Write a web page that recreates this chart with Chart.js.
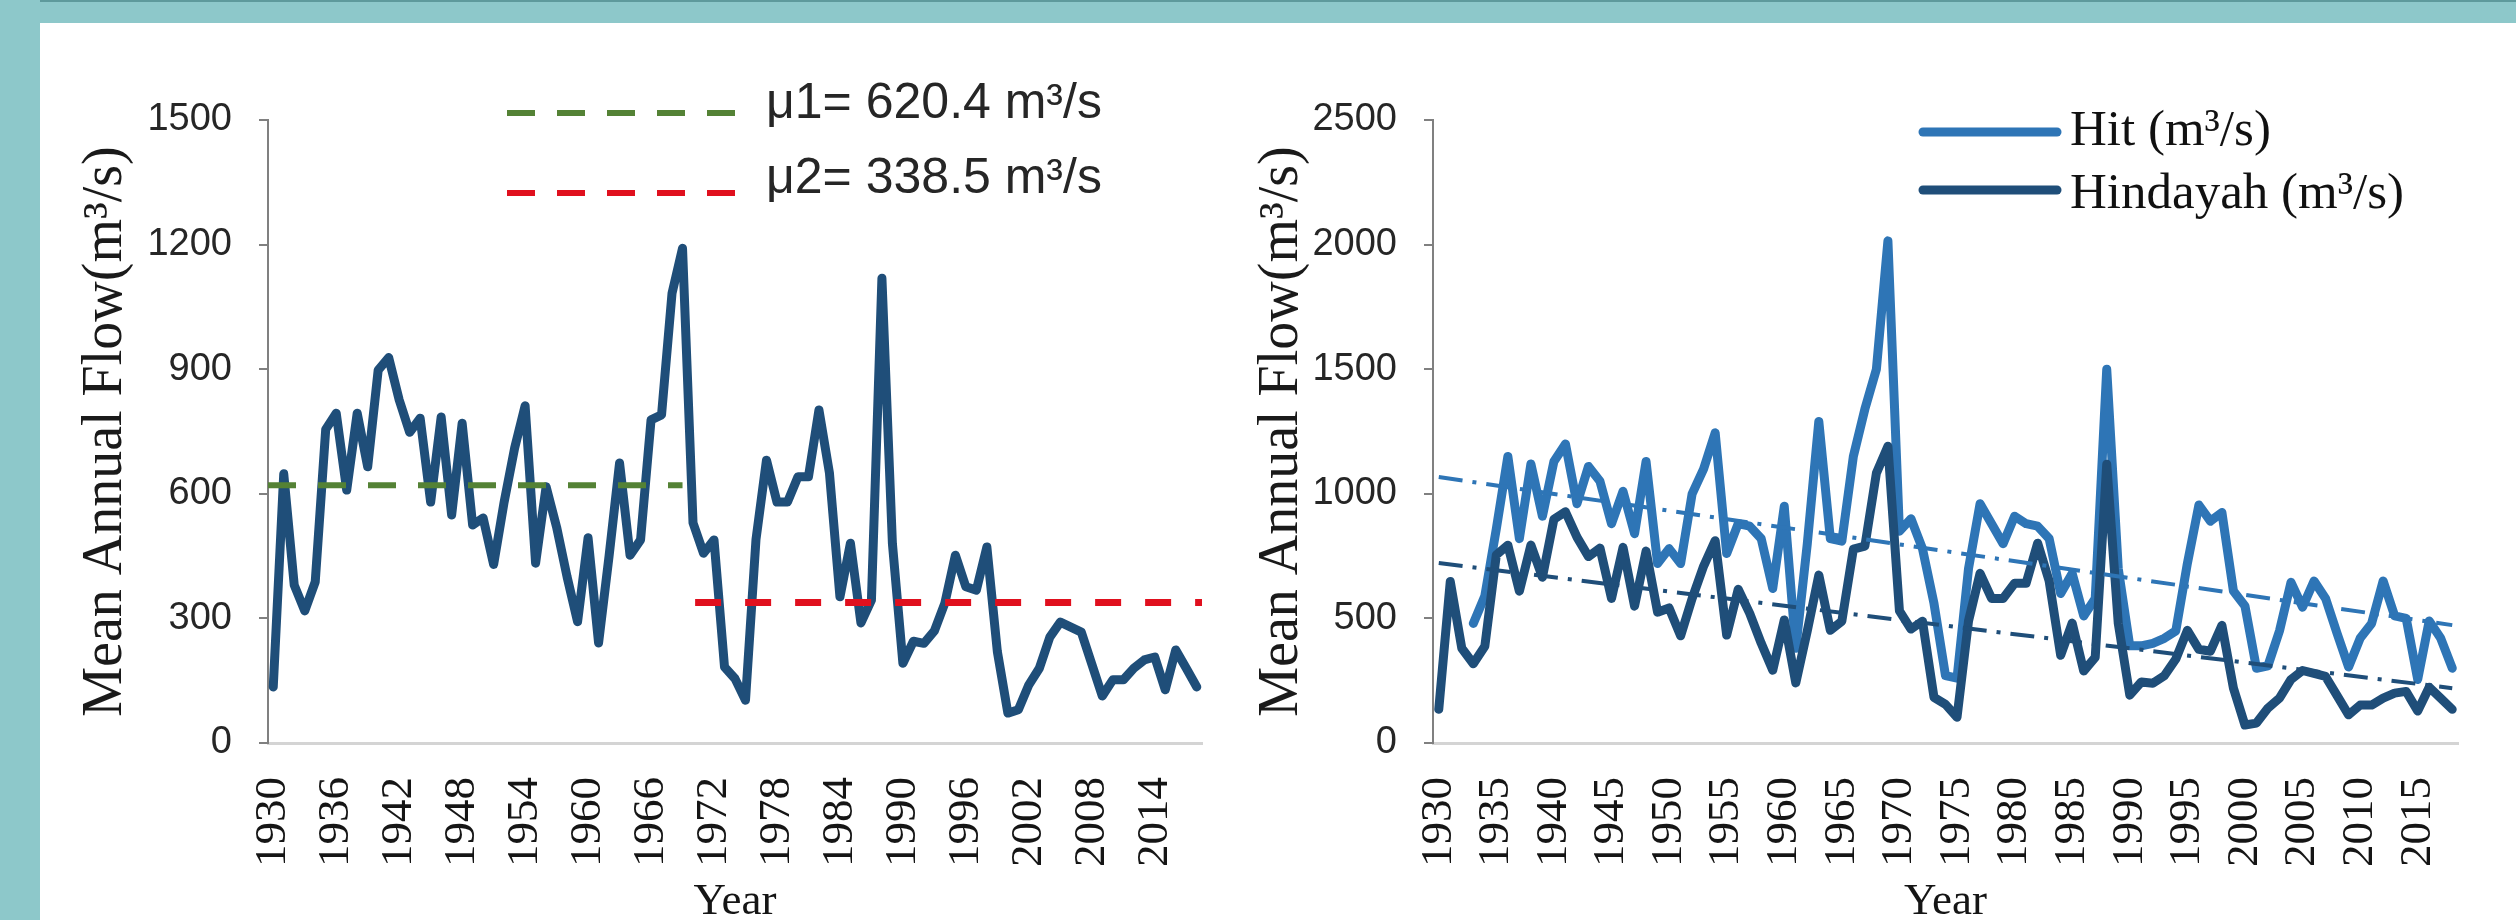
<!DOCTYPE html>
<html>
<head>
<meta charset="utf-8">
<script src="https://cdn.jsdelivr.net/npm/chart.js@4.4.1/dist/chart.umd.min.js"></script>
<style>
  html, body { margin: 0; padding: 0; width: 2516px; height: 920px; overflow: hidden; background: #ffffff; }
  #bandTop { position: absolute; left: 0; top: 0; width: 2516px; height: 23px; background: #8DC8CA; border-top: 2px solid #5E9A9C; box-sizing: border-box; }
  #bandLeft { position: absolute; left: 0; top: 0; width: 40px; height: 920px; background: #8DC8CA; }
  .panel { position: absolute; top: 0; height: 920px; }
  #panelLeft { left: 40px; width: 1200px; }
  #panelRight { left: 1240px; width: 1276px; }
  canvas { display: block; }
</style>
</head>
<body>
<div id="bandTop"></div>
<div id="bandLeft"></div>
<div class="panel" id="panelLeft"><canvas id="flowSplit" width="1200" height="920"></canvas></div>
<div class="panel" id="panelRight"><canvas id="flowStations" width="1276" height="920"></canvas></div>
<script>
// Years of record
const years = [1930,1931,1932,1933,1934,1935,1936,1937,1938,1939,
  1940,1941,1942,1943,1944,1945,1946,1947,1948,1949,
  1950,1951,1952,1953,1954,1955,1956,1957,1958,1959,
  1960,1961,1962,1963,1964,1965,1966,1967,1968,1969,
  1970,1971,1972,1973,1974,1975,1976,1977,1978,1979,
  1980,1981,1982,1983,1984,1985,1986,1987,1988,1989,
  1990,1991,1992,1993,1994,1995,1996,1997,1998,1999,
  2000,2001,2002,2003,2004,2005,2006,2007,2008,2009,
  2010,2011,2012,2013,2014,2015,2016,2017,2018];

// Mean annual flow at Hindayah (m3/s)
const hindayahFlow = [135,648,380,318,388,755,794,609,794,665,
  898,928,826,748,782,580,785,549,770,525,
  542,430,580,710,812,433,617,520,400,292,
  494,241,450,674,452,489,778,790,1083,1191,
  530,457,489,183,155,103,490,681,580,580,
  641,641,802,650,352,481,289,344,1119,480,
  192,245,240,270,337,452,376,368,472,220,
  72,80,140,180,255,291,279,267,190,113,
  152,152,180,200,207,128,224,180,135];

// Mean annual flow at Hit (m3/s); no record for 1930-1932
const hitFlow = [null,null,null,480,590,860,1150,820,1120,910,
  1130,1200,960,1110,1050,880,1010,840,1130,720,
  780,720,1000,1100,1245,760,880,870,820,620,
  950,380,800,1290,820,810,1150,1340,1500,2015,
  850,900,780,560,270,260,700,960,880,800,
  910,880,870,820,600,680,510,580,1500,700,
  390,390,400,420,450,720,955,890,925,610,
  550,300,310,450,645,545,650,580,440,305,
  420,480,650,510,500,255,490,420,300];

// Sub-period means before and after the change point
const meanBefore = 620.4;
const meanAfter = 338.5;
const meanBeforeSpan = [1929.5, 1969];
const meanAfterSpan = [1970.2, 2018.5];

// Linear trend end values, 1930 and 2018
const trendYears = [1930, 2018];
const hitTrend = [1067, 473];
const hindayahTrend = [722, 220];

// Axis tick labels
const splitYearTicks = [1930,1936,1942,1948,1954,1960,1966,1972,1978,1984,1990,1996,2002,2008,2014];
const stationYearTicks = [1930,1935,1940,1945,1950,1955,1960,1965,1970,1975,1980,1985,1990,1995,2000,2005,2010,2015];
const splitFlowTicks = [0,300,600,900,1200,1500];
const stationFlowTicks = [0,500,1000,1500,2000,2500];

const NAVY = '#1F4E79';
const BLUE = '#2E75B6';
const GREEN = '#548235';
const RED = '#E0101E';
const SERIF = "'Liberation Serif', 'Times New Roman', serif";
const SANS = "'Liberation Sans', Arial, sans-serif";

const pairs = (xs, ys) => xs.map((x, i) => ({ x: x, y: ys[i] }));

// Legend drawn over the top of the plot area
const floatingLegend = {
  id: 'floatingLegend',
  afterDraw(chart, args, opts) {
    const ctx = chart.ctx;
    opts.items.forEach(it => {
      const ds = chart.data.datasets[it.dataset];
      ctx.save();
      ctx.strokeStyle = ds.borderColor;
      ctx.lineWidth = opts.lineWidth;
      ctx.lineCap = opts.cap || 'butt';
      ctx.setLineDash(opts.dash || []);
      ctx.beginPath();
      ctx.moveTo(opts.x, it.y);
      ctx.lineTo(opts.x + opts.length, it.y);
      ctx.stroke();
      ctx.setLineDash([]);
      ctx.fillStyle = opts.textColor;
      ctx.font = opts.font;
      ctx.textBaseline = 'alphabetic';
      ctx.textAlign = 'left';
      ctx.fillText(ds.label, opts.x + opts.length + opts.gap, it.baseline);
      ctx.restore();
    });
  }
};

function yearAxis(tickList, min, max) {
  return {
    type: 'linear', position: 'bottom', min: min, max: max,
    afterBuildTicks: s => { s.ticks = tickList.map(v => ({ value: v })); },
    afterFit: s => { s.height = 177; s.paddingLeft = 0; s.paddingRight = 0; },
    grid: { display: false, drawTicks: false },
    border: { display: true, color: '#D4D4D4', width: 3 },
    ticks: {
      autoSkip: false, minRotation: 90, maxRotation: 90, padding: 34,
      color: '#151515', font: { family: SERIF, size: 45 },
      callback: v => String(v)
    },
    title: {
      display: true, text: 'Year', color: '#151515',
      font: { family: SERIF, size: 45, lineHeight: 0.8 }, padding: { top: 0, bottom: 0 }
    }
  };
}

function flowAxis(tickList, max, width, titleOffset) {
  return {
    type: 'linear', position: 'left', min: 0, max: max,
    afterBuildTicks: s => { s.ticks = tickList.map(v => ({ value: v })); },
    afterFit: s => { s.width = width; s.paddingTop = 0; s.paddingBottom = 0; },
    grid: { display: true, drawOnChartArea: false, drawTicks: true, tickLength: 9, color: '#808080', lineWidth: 2 },
    border: { display: true, color: '#808080', width: 2 },
    ticks: { padding: 27, color: '#262626', font: { family: SANS, size: 38 }, callback: v => String(v) },
    title: {
      display: true, text: 'Mean Annual Flow(m³/s)', color: '#1a1a1a',
      font: { family: SERIF, size: 56 }, padding: { top: titleOffset, bottom: 0 }
    }
  };
}

const lineStyle = { pointRadius: 0, pointHoverRadius: 0, tension: 0, fill: false,
  borderCapStyle: 'round', borderJoinStyle: 'round', spanGaps: false };

// Left: Hindayah flow with the two sub-period means
new Chart(document.getElementById('flowSplit'), {
  type: 'line',
  data: {
    datasets: [
      Object.assign({ label: 'Hindayah (m³/s)', data: pairs(years, hindayahFlow),
        borderColor: NAVY, borderWidth: 9, order: 3 }, lineStyle),
      Object.assign({ label: 'μ1= ' + meanBefore.toFixed(1) + ' m³/s',
        data: pairs(meanBeforeSpan, [meanBefore, meanBefore]),
        borderColor: GREEN, borderWidth: 6, borderDash: [28, 22], order: 1 }, lineStyle, { borderCapStyle: 'butt' }),
      Object.assign({ label: 'μ2= ' + meanAfter.toFixed(1) + ' m³/s',
        data: pairs(meanAfterSpan, [meanAfter, meanAfter]),
        borderColor: RED, borderWidth: 7, borderDash: [26, 24], order: 2 }, lineStyle, { borderCapStyle: 'butt' })
    ]
  },
  options: {
    responsive: false, animation: false, devicePixelRatio: 1,
    layout: { padding: { left: 0, right: 38, top: 120, bottom: 0 } },
    scales: {
      x: yearAxis(splitYearTicks, 1929.5, 2018.5),
      y: flowAxis(splitFlowTicks, 1500, 228, 33)
    },
    plugins: {
      legend: { display: false }, tooltip: { enabled: false },
      floatingLegend: {
        x: 467, length: 228, gap: 31, lineWidth: 6, dash: [28, 22],
        textColor: '#262626', font: "50px 'Liberation Sans', Arial, sans-serif",
        items: [ { dataset: 1, y: 113, baseline: 118 }, { dataset: 2, y: 193, baseline: 193 } ]
      }
    }
  },
  plugins: [floatingLegend]
});

// Right: Hit and Hindayah with linear trends
new Chart(document.getElementById('flowStations'), {
  type: 'line',
  data: {
    datasets: [
      Object.assign({ label: 'Hit (m³/s)', data: pairs(years, hitFlow),
        borderColor: BLUE, borderWidth: 9, order: 4 }, lineStyle),
      Object.assign({ label: 'Hindayah (m³/s)', data: pairs(years, hindayahFlow),
        borderColor: NAVY, borderWidth: 9, order: 3 }, lineStyle),
      Object.assign({ label: 'Hit trend', data: pairs(trendYears, hitTrend),
        borderColor: BLUE, borderWidth: 4, borderDash: [24, 10, 4, 10], order: 2 }, lineStyle, { borderCapStyle: 'butt' }),
      Object.assign({ label: 'Hindayah trend', data: pairs(trendYears, hindayahTrend),
        borderColor: NAVY, borderWidth: 4, borderDash: [24, 10, 4, 10], order: 1 }, lineStyle, { borderCapStyle: 'butt' })
    ]
  },
  options: {
    responsive: false, animation: false, devicePixelRatio: 1,
    layout: { padding: { left: 0, right: 58, top: 120, bottom: 0 } },
    scales: {
      x: yearAxis(stationYearTicks, 1929.5, 2018.5),
      y: flowAxis(stationFlowTicks, 2500, 193, 9)
    },
    plugins: {
      legend: { display: false }, tooltip: { enabled: false },
      floatingLegend: {
        x: 683, length: 134, gap: 13, lineWidth: 9, cap: 'round',
        textColor: '#111111', font: "51px 'Liberation Serif', 'Times New Roman', serif",
        items: [ { dataset: 0, y: 132, baseline: 145 }, { dataset: 1, y: 190, baseline: 208 } ]
      }
    }
  },
  plugins: [floatingLegend]
});
</script>
</body>
</html>
